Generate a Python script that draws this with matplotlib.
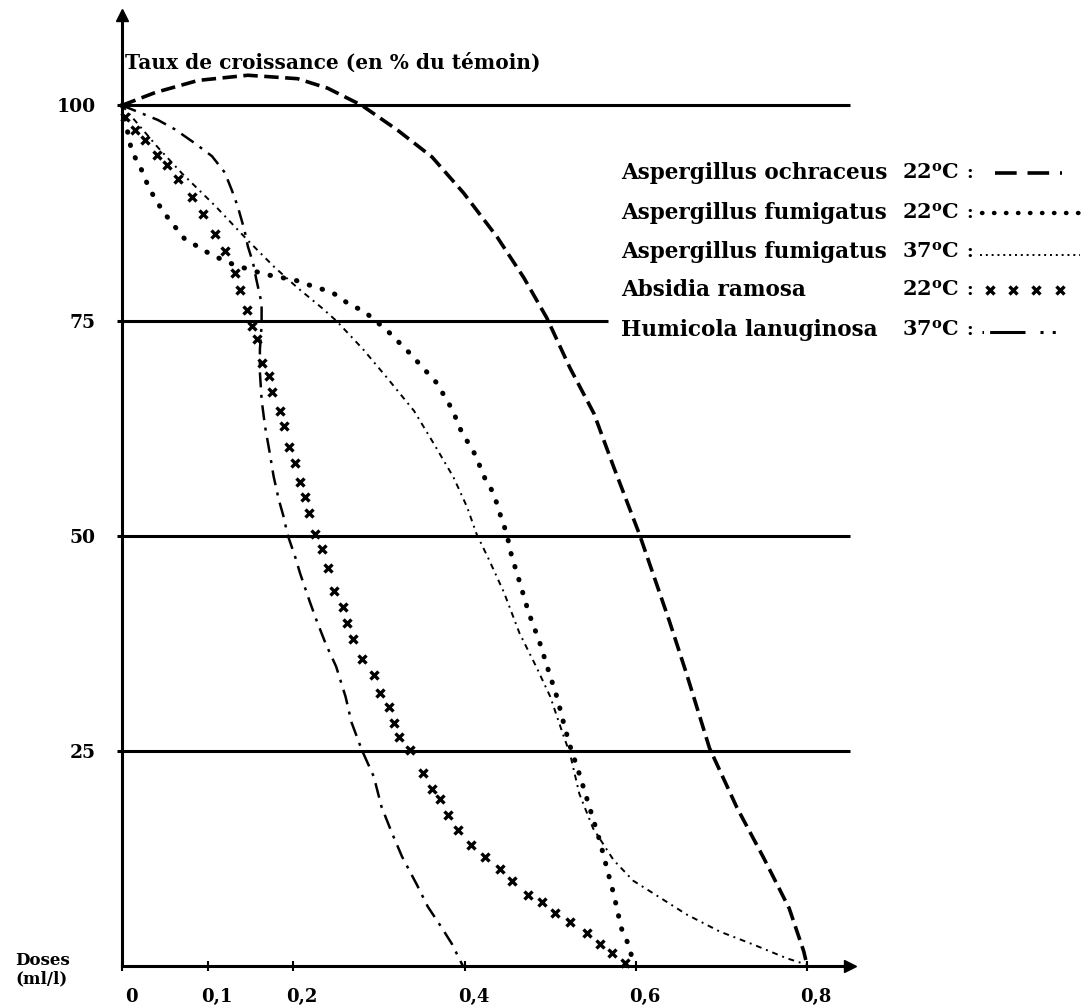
import numpy as np
import matplotlib
matplotlib.use("Agg")
from matplotlib import pyplot as plt
from matplotlib.lines import Line2D
import matplotlib.transforms as mtransforms

plt.rcParams["font.family"] = "DejaVu Serif"
plt.rcParams["font.weight"] = "bold"
plt.rcParams["mathtext.fontset"] = "dejavuserif"

# doses (ml/l) and growth rate (% of control)
ochra_x = [0, 0.039, 0.089, 0.147, 0.205, 0.240, 0.28, 0.322, 0.362, 0.399, 0.438, 0.469,
           0.496, 0.523, 0.551, 0.574, 0.604, 0.639, 0.659, 0.686, 0.718, 0.749, 0.779, 0.796, 0.80]
ochra_y = [100, 101.5, 102.9, 103.5, 103.1, 102, 100, 97.1, 94, 89.8, 84.7, 80,
           75.3, 69.5, 64.2, 58, 50.2, 40.1, 34, 25.3, 18.4, 12.6, 6.7, 1.7, 0]

fum22_x = [0, 0.01, 0.015, 0.022, 0.029, 0.035, 0.042, 0.05, 0.065, 0.073, 0.085, 0.105, 0.128,
           0.152, 0.175, 0.202, 0.225, 0.245, 0.268, 0.281, 0.292, 0.31, 0.336, 0.356, 0.367,
           0.379, 0.387, 0.393, 0.4, 0.408, 0.414, 0.424, 0.434, 0.443, 0.449, 0.455, 0.461,
           0.475, 0.487, 0.498, 0.508, 0.516, 0.523, 0.534, 0.546, 0.558, 0.566, 0.574, 0.583,
           0.593, 0.597]
fum22_y = [100, 95.3, 94, 92.7, 91, 89.8, 88.6, 87.4, 85.5, 84.5, 83.8, 82.6, 81.6,
           80.8, 80.2, 79.7, 78.9, 78.3, 76.7, 76.2, 75.3, 73.8, 71.2, 69, 67.8,
           65.8, 64.4, 62.8, 61.4, 60.3, 59, 56.6, 54.9, 52, 50.3, 47.6, 45.7,
           41, 37.8, 34.3, 31.2, 28.1, 25.6, 22.3, 18.4, 14.5, 11.4, 8.4, 4.4,
           2.1, 0]

fum37_x = [0, 0.042, 0.07, 0.109, 0.147, 0.178, 0.205, 0.233, 0.251, 0.282, 0.309, 0.341,
           0.364, 0.387, 0.403, 0.414, 0.429, 0.446, 0.464, 0.484, 0.5, 0.516, 0.523, 0.534,
           0.55, 0.574, 0.597, 0.621, 0.659, 0.698, 0.737, 0.776, 0.798]
fum37_y = [100, 95.1, 92.1, 88.3, 84.3, 81.2, 78.8, 76.5, 74.9, 71.6, 68.4, 64.5,
           60.7, 56.8, 53.3, 50.2, 47.1, 43.4, 38.7, 34.7, 31.3, 26.6, 24.7, 20,
           16, 12.3, 9.9, 8.4, 6, 4, 2.5, 0.9, 0.2]

absid_x = [0.004, 0.015, 0.027, 0.041, 0.053, 0.065, 0.082, 0.095, 0.109, 0.12, 0.132, 0.138,
           0.146, 0.152, 0.158, 0.163, 0.172, 0.175, 0.184, 0.189, 0.195, 0.202, 0.208, 0.214,
           0.218, 0.225, 0.233, 0.241, 0.248, 0.258, 0.263, 0.27, 0.28, 0.294, 0.301, 0.312,
           0.318, 0.324, 0.336, 0.352, 0.362, 0.371, 0.381, 0.392, 0.408, 0.424, 0.441, 0.455,
           0.474, 0.49, 0.505, 0.523, 0.543, 0.558, 0.572, 0.587]
absid_y = [98.6, 97.1, 96, 94.2, 93.1, 91.4, 89.3, 87.4, 85.1, 83.1, 80.5, 78.5,
           76.2, 74.4, 72.8, 70.1, 68.5, 66.7, 64.5, 62.7, 60.3, 58.4, 56.2, 54.5,
           52.6, 50.2, 48.5, 46.3, 43.6, 41.7, 39.9, 38, 35.7, 33.8, 31.7, 30.1,
           28.2, 26.6, 25.1, 22.4, 20.6, 19.4, 17.6, 15.8, 14.1, 12.7, 11.3, 9.9,
           8.2, 7.4, 6.2, 5.1, 3.8, 2.6, 1.5, 0.3]

humic_x = [0, 0.042, 0.062, 0.085, 0.105, 0.12, 0.128, 0.135, 0.143, 0.147, 0.153, 0.157,
           0.163, 0.163, 0.161, 0.161, 0.163, 0.167, 0.172, 0.177, 0.183, 0.189, 0.193, 0.202,
           0.208, 0.219, 0.227, 0.238, 0.25, 0.261, 0.268, 0.28, 0.294, 0.303, 0.315, 0.327,
           0.344, 0.357, 0.373, 0.385, 0.398]
humic_y = [100, 98.3, 97.2, 95.6, 94.1, 92.2, 90.2, 88.3, 85.5, 83.6, 81.7, 79.7,
           77, 74.5, 71.6, 69, 65.8, 62.7, 59.9, 56.9, 54.2, 52.1, 50.2, 47.6,
           45.6, 42.4, 40.2, 37.4, 34.8, 31.3, 28.3, 25.1, 22, 18.5, 15.5, 12.7,
           9.5, 6.9, 4.5, 2.6, 0]

y_ticks = [25, 50, 75, 100]
x_ticks = [0, 0.1, 0.2, 0.4, 0.6, 0.8]
x_labels = ["0", "0,1", "0,2", "0,4", "0,6", "0,8"]

names = ["Aspergillus ochraceus", "Aspergillus fumigatus", "Aspergillus fumigatus",
         "Absidia ramosa", "Humicola lanuginosa"]
temps = ["22", "22", "37", "22", "37"]

W, H = 1083, 1007
fig = plt.figure(figsize=(W / 100, H / 100), dpi=100)
ax = fig.add_axes([122 / W, 41 / H, 728 / W, 951 / H])
ax.set_xlim(0, 0.85)
ax.set_ylim(0, 110.5)

for s in ["top", "right"]:
    ax.spines[s].set_visible(False)
for s in ["left", "bottom"]:
    ax.spines[s].set_linewidth(2.2)
ax.plot(1, 0, ">k", ms=8, transform=ax.get_yaxis_transform(), clip_on=False)
ax.plot(0, 1, "^k", ms=8, transform=ax.get_xaxis_transform(), clip_on=False)

ax.hlines([100, 50, 25], -0.006, 0.85, color="k", lw=2.2, clip_on=False)
ax.hlines(75, -0.006, 0.567, color="k", lw=2.2, clip_on=False)

ax.set_yticks(y_ticks)
ax.set_yticklabels([str(v) for v in y_ticks])
ax.tick_params(axis="y", length=0, pad=19, labelsize=13.5)
ax.set_xticks(x_ticks)
ax.set_xticklabels(x_labels)
ax.tick_params(axis="x", direction="inout", length=7, width=1.5, pad=12, labelsize=13)
# typed labels sit a little right of their ticks
shift = mtransforms.ScaledTranslation(9 / 100, 0, fig.dpi_scale_trans)
for lab in ax.get_xticklabels():
    lab.set_transform(lab.get_transform() + shift)

# curves
ax.plot(ochra_x, ochra_y, color="k", lw=2.6, linestyle=(0, (4, 1.8)), clip_on=False)
ax.plot(fum22_x, fum22_y, color="k", lw=3.6, linestyle=(0, (0.1, 2.6)),
        dash_capstyle="round", clip_on=False)
ax.plot(fum37_x, fum37_y, color="k", lw=1.4, linestyle=(0, (3, 2.5, 1, 2.5)), clip_on=False)
ax.plot(absid_x, absid_y, linestyle="none", marker="x", ms=5.5, mew=2.4, color="k",
        clip_on=False)
ax.plot(humic_x, humic_y, color="k", lw=1.8, linestyle=(0, (6, 3, 1.2, 3)), clip_on=False)

ax.text(0.003, 105, "Taux de croissance (en % du témoin)", fontsize=14.5,
        fontweight="bold", va="center", ha="left")
fig.text(15 / W, 1 - 970 / H, "Doses\n(ml/l)", fontsize=12, fontweight="bold",
         va="center", ha="left", linespacing=1.1)


# legend, drawn by hand: name, temperature, colon, line sample
def fx(px):
    return px / W


def fy(py):
    return 1 - py / H


rows = [173, 213, 252, 290, 330]
for name, t, r in zip(names, temps, rows):
    fig.text(fx(621), fy(r), name, fontsize=15.5, fontweight="bold", va="center")
    fig.text(fx(902), fy(r), t + r"$^{\mathbf{o}}$C", fontsize=15, fontweight="bold",
             va="center")
    fig.text(fx(966), fy(r), ":", fontsize=13, fontweight="bold", va="center")

fig.add_artist(Line2D([fx(995), fx(1062)], [fy(173), fy(173)], color="k", lw=2.6,
                      linestyle=(0, (6, 3)), transform=fig.transFigure))
fig.add_artist(Line2D([fx(982), fx(1080)], [fy(213), fy(213)], color="k", lw=3.2,
                      linestyle=(0, (0.1, 2.6)), dash_capstyle="round",
                      transform=fig.transFigure))
fig.add_artist(Line2D([fx(980), fx(1080)], [fy(255), fy(255)], color="k", lw=1.4,
                      linestyle=(0, (1, 2)), transform=fig.transFigure))
fig.add_artist(Line2D([fx(990), fx(1013), fx(1036), fx(1060)], [fy(290)] * 4,
                      linestyle="none", marker="x", ms=6, mew=2.4, color="k",
                      transform=fig.transFigure))
fig.add_artist(Line2D([fx(982), fx(1025)], [fy(332), fy(332)], color="k", lw=2.2,
                      linestyle=(0, (0.5, 2, 12, 100)), transform=fig.transFigure))
fig.add_artist(Line2D([fx(1040), fx(1060)], [fy(332), fy(332)], color="k", lw=2.2,
                      linestyle=(0, (1, 3)), transform=fig.transFigure))

fig.savefig("out.png", dpi=100, facecolor="white")
